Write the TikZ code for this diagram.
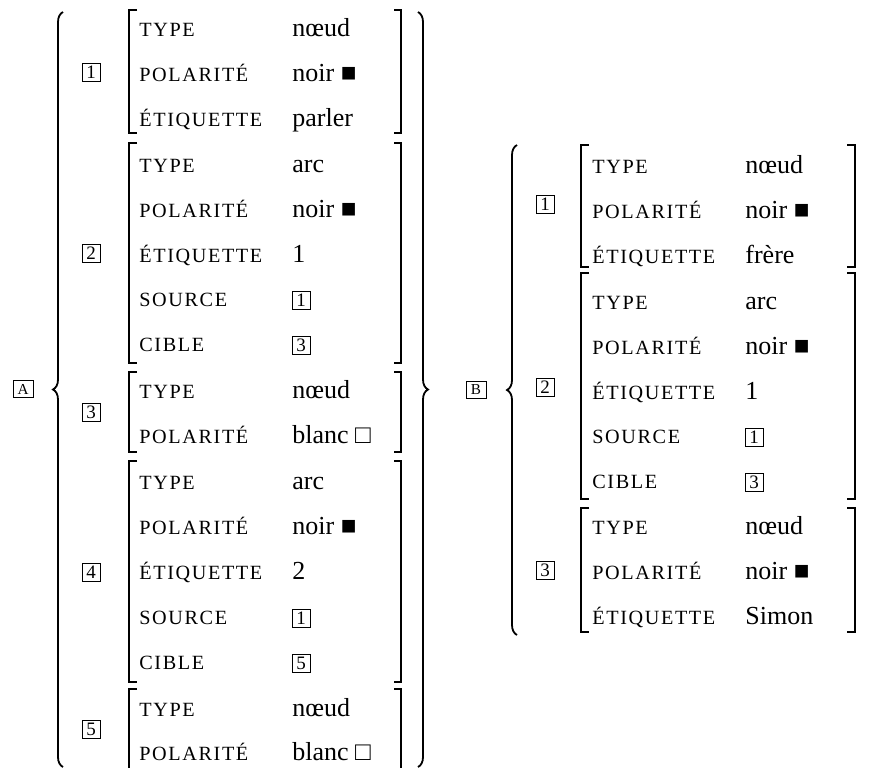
\documentclass[tikz,border=0pt]{standalone}
\usepackage{fontspec}
\setmainfont{Liberation Serif}
\newfontfamily\capsfont[LetterSpace=8]{Liberation Serif}
\usetikzlibrary{decorations.pathreplacing}
\newcommand\attrfont{\capsfont\fontsize{10.1pt}{12pt}\selectfont}
\newcommand\valfont{\fontsize{13pt}{15pt}\selectfont}
\newcommand\tagfont{\fontsize{9.5pt}{10pt}\selectfont}
\newcommand\setlblfont{\fontsize{7.6pt}{9pt}\selectfont}
% #1 name, #2 attr x, #3 value x, #4 row y, #5 attribute, #6 value
\newcommand\kvrow[6]{%
  \node[attr] (#1k) at (#2,#4+6.5) {#5};
  \node[val]  (#1v) at (#3,#4+6.5) {#6};}
\begin{document}
\begin{tikzpicture}[x=0.5pt,y=-0.5pt,
  attr/.style={anchor=base west, inner sep=0pt, font=\attrfont},
  val/.style={anchor=base west, inner sep=0pt, font=\valfont},
  tagbox/.style={draw, line width=0.45pt, minimum width=9pt, minimum height=9pt, inner sep=0pt, font=\tagfont},
  setbox/.style={draw, line width=0.45pt, minimum width=10pt, minimum height=8.5pt, inner sep=0pt, font=\setlblfont},
  brk/.style={line width=1.2pt},
  curly/.style={line width=0.9pt, decorate, decoration={brace, amplitude=5pt}}]
\useasboundingbox (0,0) rectangle (871,768);

% ================= Structure A =================
\node[setbox] (setA) at (23,389) {A};
\draw[curly] (63,767) -- (63,12);
\draw[curly] (418,12) -- (418,767);

% brackets A
\draw[brk] (137,10) -- (129,10) -- (129,133) -- (137,133);
\draw[brk] (394,10) -- (401,10) -- (401,133) -- (394,133);
\draw[brk] (137,143) -- (129,143) -- (129,363) -- (137,363);
\draw[brk] (394,143) -- (401,143) -- (401,363) -- (394,363);
\draw[brk] (137,372) -- (129,372) -- (129,452) -- (137,452);
\draw[brk] (394,372) -- (401,372) -- (401,452) -- (394,452);
\draw[brk] (137,461) -- (129,461) -- (129,682) -- (137,682);
\draw[brk] (394,461) -- (401,461) -- (401,682) -- (394,682);
\draw[brk] (137,689) -- (129,689) -- (129,768);
\draw[brk] (394,689) -- (401,689) -- (401,768);

% tags A
\node[tagbox] (ta1) at (91,72) {1};
\node[tagbox] (ta2) at (91,253) {2};
\node[tagbox] (ta3) at (91,412) {3};
\node[tagbox] (ta4) at (91,572) {4};
\node[tagbox] (ta5) at (91,729) {5};

% block A1
\kvrow{a1t}{139}{292}{30}{TYPE}{nœud}
\kvrow{a1p}{139}{292}{75}{POLARITÉ}{noir ■}
\kvrow{a1e}{139}{292}{120}{ÉTIQUETTE}{parler}
% block A2
\kvrow{a2t}{139}{292}{166}{TYPE}{arc}
\kvrow{a2p}{139}{292}{211}{POLARITÉ}{noir ■}
\kvrow{a2e}{139}{292}{256}{ÉTIQUETTE}{1}
\node[attr] (a2sk) at (139,306.5) {SOURCE};
\node[tagbox] (a2sv) at (301,300.5) {1};
\node[attr] (a2ck) at (139,351.5) {CIBLE};
\node[tagbox] (a2cv) at (301,345.5) {3};
% block A3
\kvrow{a3t}{139}{292}{392}{TYPE}{nœud}
\kvrow{a3p}{139}{292}{437}{POLARITÉ}{blanc □}
% block A4
\kvrow{a4t}{139}{292}{483}{TYPE}{arc}
\kvrow{a4p}{139}{292}{528}{POLARITÉ}{noir ■}
\kvrow{a4e}{139}{292}{573}{ÉTIQUETTE}{2}
\node[attr] (a4sk) at (139,624.5) {SOURCE};
\node[tagbox] (a4sv) at (301,618.5) {1};
\node[attr] (a4ck) at (139,669.5) {CIBLE};
\node[tagbox] (a4cv) at (301,663.5) {5};
% block A5
\kvrow{a5t}{139}{292}{710}{TYPE}{nœud}
\kvrow{a5p}{139}{292}{754}{POLARITÉ}{blanc □}

% ================= Structure B =================
\node[setbox] (setB) at (476,390) {B};
\draw[curly] (517,635) -- (517,145);

% brackets B
\draw[brk] (589,145) -- (581,145) -- (581,267) -- (589,267);
\draw[brk] (847,145) -- (855,145) -- (855,267) -- (847,267);
\draw[brk] (589,273) -- (581,273) -- (581,499) -- (589,499);
\draw[brk] (847,273) -- (855,273) -- (855,499) -- (847,499);
\draw[brk] (589,508) -- (581,508) -- (581,632) -- (589,632);
\draw[brk] (847,508) -- (855,508) -- (855,632) -- (847,632);

% tags B
\node[tagbox] (tb1) at (545,204) {1};
\node[tagbox] (tb2) at (545,387) {2};
\node[tagbox] (tb3) at (545,570) {3};

% block B1
\kvrow{b1t}{592}{745}{167}{TYPE}{nœud}
\kvrow{b1p}{592}{745}{212}{POLARITÉ}{noir ■}
\kvrow{b1e}{592}{745}{257}{ÉTIQUETTE}{frère}
% block B2
\kvrow{b2t}{592}{745}{303}{TYPE}{arc}
\kvrow{b2p}{592}{745}{348}{POLARITÉ}{noir ■}
\kvrow{b2e}{592}{745}{393}{ÉTIQUETTE}{1}
\node[attr] (b2sk) at (592,443.5) {SOURCE};
\node[tagbox] (b2sv) at (754,437.5) {1};
\node[attr] (b2ck) at (592,488.5) {CIBLE};
\node[tagbox] (b2cv) at (754,482.5) {3};
% block B3
\kvrow{b3t}{592}{745}{528}{TYPE}{nœud}
\kvrow{b3p}{592}{745}{573}{POLARITÉ}{noir ■}
\kvrow{b3e}{592}{745}{618}{ÉTIQUETTE}{Simon}
\end{tikzpicture}
\end{document}
